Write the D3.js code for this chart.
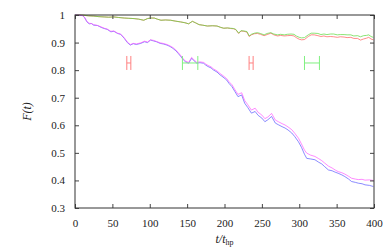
<!DOCTYPE html>
<html>
<head>
<meta charset="utf-8">
<script src="https://cdn.jsdelivr.net/npm/d3@7"></script>
<style>
  body { margin: 0; background: #fff; }
  text, tspan { font-family: "Liberation Serif", "DejaVu Serif", serif; fill: #222; }
</style>
</head>
<body>
<div id="chart"></div>
<script>
// values: [t/t_hp, F(t)]
const redSeries = [
    [0, 1.000], [6, 1.000], [12, 0.999], [18, 0.997], [25, 0.996], [32, 0.994], [39, 0.993], [45, 0.992],
    [52, 0.993], [58, 0.991], [66, 0.989], [72, 0.988], [79, 0.987], [85, 0.985], [92, 0.981], [97, 0.987],
    [101, 0.989], [106, 0.989], [110, 0.985], [115, 0.981], [121, 0.982], [128, 0.981], [134, 0.978],
    [141, 0.975], [147, 0.972], [152, 0.968], [157, 0.977], [161, 0.972], [166, 0.965], [171, 0.963],
    [177, 0.960], [184, 0.961], [190, 0.960], [195, 0.955], [199, 0.952], [204, 0.953], [208, 0.951],
    [212, 0.950], [215, 0.947], [219, 0.933], [222, 0.942], [226, 0.941], [230, 0.938], [233, 0.922],
    [236, 0.928], [240, 0.932], [244, 0.933], [248, 0.930], [253, 0.925], [257, 0.929], [262, 0.934],
    [266, 0.928], [271, 0.924], [275, 0.926], [280, 0.924], [284, 0.925], [289, 0.926], [293, 0.924],
    [296, 0.918], [300, 0.912], [303, 0.910], [307, 0.911], [312, 0.922], [316, 0.928], [320, 0.928],
    [325, 0.925], [329, 0.922], [333, 0.924], [337, 0.921], [342, 0.922], [346, 0.921], [351, 0.919],
    [355, 0.921], [360, 0.920], [364, 0.918], [369, 0.919], [373, 0.915], [378, 0.915], [382, 0.909],
    [386, 0.913], [390, 0.916], [393, 0.919], [396, 0.913], [399, 0.910]
];
const greenSeries = [
    [0, 1.000], [6, 1.000], [12, 0.999], [18, 0.997], [25, 0.996], [32, 0.994], [39, 0.993], [45, 0.992],
    [52, 0.993], [58, 0.991], [66, 0.989], [72, 0.988], [79, 0.987], [85, 0.985], [92, 0.981], [97, 0.987],
    [101, 0.989], [106, 0.989], [110, 0.985], [115, 0.981], [121, 0.982], [128, 0.981], [134, 0.978],
    [141, 0.975], [147, 0.972], [152, 0.968], [157, 0.977], [161, 0.972], [166, 0.965], [171, 0.963],
    [177, 0.960], [184, 0.961], [190, 0.960], [195, 0.955], [199, 0.952], [204, 0.953], [208, 0.952],
    [212, 0.951], [215, 0.948], [219, 0.934], [222, 0.943], [226, 0.942], [230, 0.940], [233, 0.924],
    [236, 0.930], [240, 0.934], [244, 0.936], [248, 0.933], [253, 0.928], [257, 0.933], [262, 0.936],
    [266, 0.931], [271, 0.928], [275, 0.930], [280, 0.928], [284, 0.930], [289, 0.931], [293, 0.930],
    [296, 0.924], [300, 0.919], [303, 0.917], [307, 0.918], [312, 0.928], [316, 0.934], [320, 0.934],
    [325, 0.933], [329, 0.929], [333, 0.931], [337, 0.929], [342, 0.931], [346, 0.931], [351, 0.928],
    [355, 0.929], [360, 0.929], [364, 0.928], [369, 0.928], [373, 0.924], [378, 0.925], [382, 0.921],
    [386, 0.925], [390, 0.926], [393, 0.928], [396, 0.922], [399, 0.919]
];
const blueSeries = [
    [0, 1.000], [5, 0.999], [10, 0.998], [13, 0.990], [16, 0.975], [19, 0.968], [22, 0.969], [25, 0.963],
    [30, 0.962], [35, 0.955], [39, 0.951], [43, 0.948], [48, 0.939], [52, 0.941], [57, 0.933], [61, 0.930],
    [66, 0.915], [70, 0.900], [74, 0.891], [78, 0.896], [82, 0.893], [88, 0.897], [93, 0.903], [97, 0.900],
    [101, 0.909], [105, 0.906], [109, 0.903], [114, 0.897], [118, 0.895], [123, 0.891], [127, 0.886],
    [131, 0.879], [135, 0.870], [138, 0.861], [142, 0.848], [145, 0.837], [148, 0.830], [152, 0.825],
    [156, 0.843], [159, 0.835], [163, 0.825], [167, 0.827], [172, 0.825], [175, 0.818], [178, 0.813],
    [182, 0.808], [185, 0.801], [190, 0.793], [194, 0.783], [198, 0.775], [203, 0.764], [206, 0.752],
    [210, 0.740], [214, 0.722], [218, 0.704], [223, 0.710], [227, 0.680], [231, 0.665], [236, 0.644],
    [241, 0.650], [245, 0.636], [250, 0.626], [254, 0.613], [258, 0.620], [263, 0.632], [268, 0.608],
    [272, 0.602], [277, 0.595], [281, 0.590], [285, 0.583], [290, 0.572], [294, 0.559], [299, 0.540],
    [303, 0.520], [307, 0.495], [310, 0.480], [315, 0.478], [321, 0.475], [326, 0.466], [330, 0.460],
    [334, 0.450], [339, 0.438], [344, 0.435], [348, 0.430], [352, 0.426], [357, 0.420], [361, 0.414],
    [366, 0.405], [370, 0.396], [375, 0.393], [379, 0.390], [384, 0.388], [388, 0.384], [394, 0.382],
    [399, 0.378]
];
const magentaSeries = [
    [0, 1.000], [5, 0.999], [10, 0.998], [13, 0.991], [16, 0.976], [19, 0.970], [22, 0.969], [25, 0.965],
    [30, 0.962], [35, 0.957], [39, 0.952], [43, 0.949], [48, 0.941], [52, 0.942], [57, 0.934], [61, 0.931],
    [66, 0.917], [70, 0.902], [74, 0.893], [78, 0.897], [82, 0.895], [88, 0.899], [93, 0.905], [97, 0.902],
    [101, 0.910], [105, 0.908], [109, 0.904], [114, 0.899], [118, 0.897], [123, 0.893], [127, 0.888],
    [131, 0.882], [135, 0.873], [138, 0.864], [142, 0.851], [145, 0.840], [148, 0.833], [152, 0.828],
    [156, 0.846], [159, 0.838], [163, 0.828], [167, 0.830], [172, 0.828], [175, 0.822], [178, 0.817],
    [182, 0.812], [185, 0.805], [190, 0.797], [194, 0.788], [198, 0.780], [203, 0.769], [206, 0.758],
    [210, 0.747], [214, 0.729], [218, 0.712], [223, 0.718], [227, 0.690], [231, 0.675], [236, 0.655],
    [241, 0.662], [245, 0.647], [250, 0.637], [254, 0.624], [258, 0.630], [263, 0.643], [268, 0.619],
    [272, 0.613], [277, 0.606], [281, 0.601], [285, 0.594], [290, 0.584], [294, 0.571], [299, 0.553],
    [303, 0.532], [307, 0.510], [310, 0.499], [315, 0.492], [321, 0.487], [326, 0.479], [330, 0.472],
    [334, 0.463], [339, 0.452], [344, 0.445], [348, 0.438], [352, 0.432], [357, 0.428], [361, 0.423],
    [366, 0.415], [370, 0.408], [375, 0.405], [379, 0.403], [384, 0.404], [388, 0.401], [394, 0.402],
    [399, 0.400]
];
// horizontal error bars: centre, half width, level
const redBars = [[72, 2.7, 0.826], [235.6, 2.7, 0.826]];
const greenBars = [[154, 10.3, 0.826], [317, 10, 0.826]];
const xTicks = [0, 50, 100, 150, 200, 250, 300, 350, 400];
const yTicks = [0.3, 0.4, 0.5, 0.6, 0.7, 0.8, 0.9, 1];

const W = 387, H = 247;
const margin = { top: 15, right: 13, bottom: 39, left: 75 };
const width = W - margin.left - margin.right;
const height = H - margin.top - margin.bottom;

const svg = d3.select("#chart").append("svg")
    .attr("width", W)
    .attr("height", H);
const g = svg.append("g")
    .attr("transform", `translate(${margin.left},${margin.top})`);

const x = d3.scaleLinear().domain([0, 400]).range([0, width]);
const y = d3.scaleLinear().domain([0.3, 1]).range([height, 0]);

const line = d3.line().x(d => x(d[0])).y(d => y(d[1]));

const series = [
    { data: redSeries, color: "#ff5a5a" },
    { data: greenSeries, color: "#5ad83a" },
    { data: blueSeries, color: "#5a5aff" },
    { data: magentaSeries, color: "#ff5aff" }
];
series.forEach(s => {
    g.append("path")
        .datum(s.data)
        .attr("fill", "none")
        .attr("stroke", s.color)
        .attr("stroke-opacity", 0.7)
        .attr("stroke-width", 1)
        .attr("d", line);
});

// error bars
function drawBars(bars, color) {
    bars.forEach(b => {
        const x0 = x(b[0] - b[1]), x1 = x(b[0] + b[1]), yy = y(b[2]);
        const eb = g.append("g").attr("stroke", color).attr("stroke-width", 1).attr("fill", "none");
        eb.append("line").attr("x1", x0).attr("x2", x1).attr("y1", yy).attr("y2", yy);
        eb.append("line").attr("x1", x0).attr("x2", x0).attr("y1", yy - 7).attr("y2", yy + 7);
        eb.append("line").attr("x1", x1).attr("x2", x1).attr("y1", yy - 7).attr("y2", yy + 7);
    });
}
drawBars(redBars, "#ff8080");
drawBars(greenBars, "#80f080");

// axes: inward ticks on all four sides
const tk = 4;
g.append("g")
    .attr("transform", `translate(0,${height})`)
    .call(d3.axisBottom(x).tickValues(xTicks).tickSize(-tk).tickPadding(tk + 7))
    .call(a => a.select(".domain").remove());
g.append("g")
    .call(d3.axisTop(x).tickValues(xTicks).tickSize(-tk).tickFormat(""))
    .call(a => a.select(".domain").remove());
g.append("g")
    .call(d3.axisLeft(y).tickValues(yTicks).tickSize(-tk).tickPadding(tk + 6).tickFormat(d3.format("")))
    .call(a => a.select(".domain").remove());
g.append("g")
    .attr("transform", `translate(${width},0)`)
    .call(d3.axisRight(y).tickValues(yTicks).tickSize(-tk).tickFormat(""))
    .call(a => a.select(".domain").remove());

g.selectAll(".tick line").attr("stroke", "#444");
g.selectAll(".tick text")
    .style("font-family", "'Liberation Serif', 'DejaVu Serif', serif")
    .style("font-size", "11px")
    .attr("fill", "#222");

g.append("rect")
    .attr("width", width)
    .attr("height", height)
    .attr("fill", "none")
    .attr("stroke", "#333")
    .attr("stroke-width", 1);

// axis labels
svg.append("text")
    .attr("transform", `translate(31,${margin.top + height / 2}) rotate(-90)`)
    .attr("text-anchor", "middle")
    .style("font-size", "12px")
    .style("font-style", "italic")
    .text("F(t)");

const xl = svg.append("text")
    .attr("x", margin.left + width / 2)
    .attr("y", 243)
    .attr("text-anchor", "middle")
    .style("font-size", "12px");
xl.append("tspan").style("font-style", "italic").attr("fill", "#222").text("t/t");
xl.append("tspan").attr("dy", 2).attr("fill", "#222").style("font-size", "8px").text("hp");
</script>
</body>
</html>
